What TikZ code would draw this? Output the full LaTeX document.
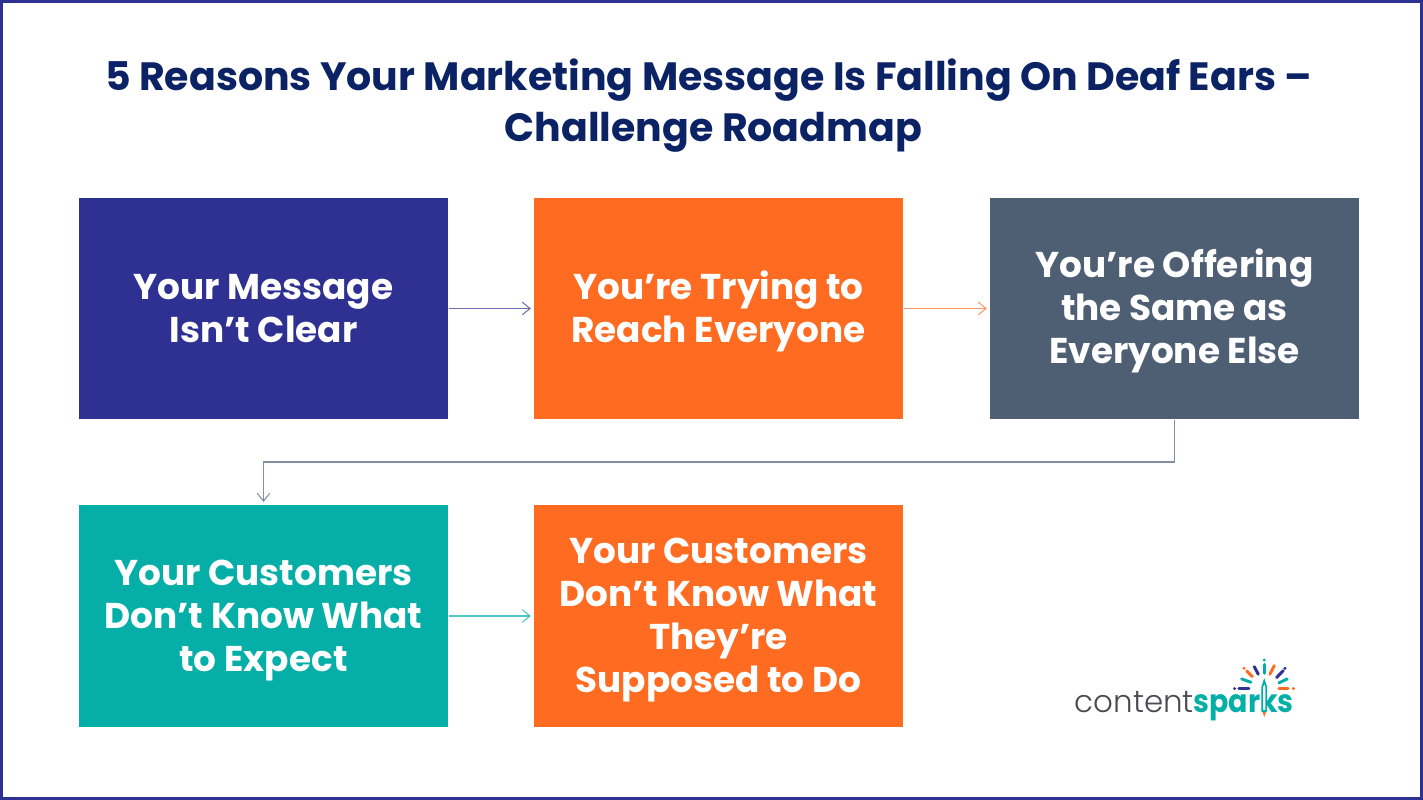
\documentclass[tikz,border=0pt]{standalone}
\usepackage{fontspec}
\setmainfont{Poppins}
\newfontfamily\logolight{Poppins Light}
\usetikzlibrary{arrows.meta}
\definecolor{navy}{HTML}{2E3192}
\definecolor{titleblue}{HTML}{0B2265}
\definecolor{sparkorange}{HTML}{FF6B21}
\definecolor{slate}{HTML}{4F5F73}
\definecolor{teal}{HTML}{05AFA8}
\definecolor{logogrey}{HTML}{4A4A50}
\newcommand{\firstline}{\rule{0pt}{10pt}}
\newcommand{\lastline}{\rule[-3pt]{0pt}{3pt}}
\tikzset{
  roadbox/.style={minimum width=3.69cm,minimum height=2.21cm,inner sep=0pt,align=center,text=white,
    font=\fontsize{10.2}{12.2}\selectfont\bfseries},
  roadarrow/.style={-{Straight Barb[length=2.2pt,width=3.6pt]},line width=0.3pt,shorten >=0.7pt,draw opacity=0.7},
  ray/.style={line width=0.85pt,line cap=round}
}
\begin{document}
\begin{tikzpicture}
\useasboundingbox (0,0) rectangle (14.23,8);
\draw[navy,line width=0.03cm] (0.015,0.015) rectangle (14.215,7.985);

\node[align=center,text=titleblue,font=\fontsize{11.24}{14.5}\selectfont\bfseries] (title) at (7.085,6.94)
  {5 Reasons Your Marketing Message Is Falling On Deaf Ears –\\\hspace*{2.8pt}Challenge Roadmap};

\node[roadbox,fill=navy] (clear) at (2.635,4.915) {\firstline Your Message\\Isn’t Clear\lastline};
\node[roadbox,fill=sparkorange] (reach) at (7.185,4.915) {\firstline You’re Trying to\\Reach Everyone\lastline};
\node[roadbox,fill=slate] (same) at (11.745,4.915) {\firstline You’re Offering\\the Same as\\Everyone Else\lastline};
\node[roadbox,fill=teal,minimum height=2.22cm] (expect) at (2.635,1.84) {\firstline Your Customers\\Don’t Know What\\to Expect\lastline};
\node[roadbox,fill=sparkorange,minimum height=2.22cm] (todo) at (7.185,1.84) {\firstline Your Customers\\Don’t Know What\\They’re\\Supposed to Do\lastline};

\coordinate (bend) at (11.745,3.38);

\draw[roadarrow,navy] (clear) -- (reach);
\draw[roadarrow,sparkorange] (reach) -- (same);
\draw[roadarrow,slate] (same.south) -- (bend) -| (expect.north);
\draw[roadarrow,teal] (expect) -- (todo);

% logo
\node[anchor=base west,inner sep=0pt,text=logogrey,font=\fontsize{8.8}{10}\logolight] (content) at (10.74,0.87) {content};
\node[anchor=base west,inner sep=0pt,text=teal,font=\fontsize{9}{10}\selectfont\bfseries,transform shape,xscale=0.9] (sparks) at (11.93,0.87) {sparks};

\begin{scope}[shift={(12.25,1.45)},x=0.00333cm,y=-0.00333cm]
\foreach \xa/\ya/\xb/\yb/\col in {118/28/118/55/teal,50/72/78/82/teal,187/72/162/84/teal,
    88/35/100/58/navy,175/47/155/68/navy,42/101/72/101/navy,
    148/32/135/58/sparkorange,65/48/82/65/sparkorange,162/101/190/101/sparkorange}
  \draw[ray,\col] (\xa,\ya) -- (\xb,\yb);
\foreach \xa/\ya/\col in {118/15/teal,180/40/navy,29/101/navy,57/40/sparkorange,206/101/sparkorange}
  \fill[\col] (\xa,\ya) circle [radius=5];
% pencil
\draw[teal,fill=white,line width=0.5pt] (112,96) -- (118,78) -- (124,96) -- (124,168) -- (112,168) -- cycle;
\fill[sparkorange] (113,172) -- (123,172) -- (118,186) -- cycle;
\end{scope}
\end{tikzpicture}
\end{document}
